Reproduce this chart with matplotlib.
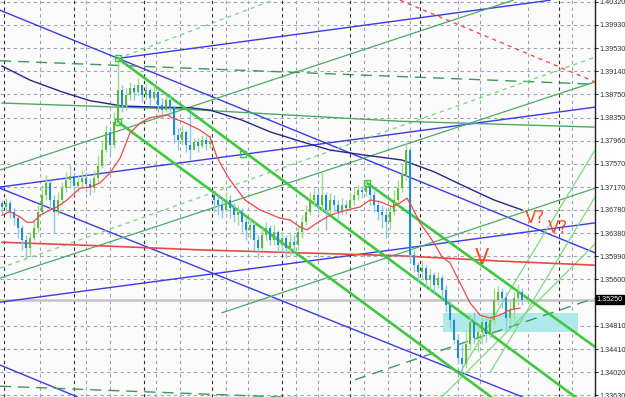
import matplotlib
matplotlib.use("Agg")
import matplotlib.pyplot as plt
from matplotlib.patches import Rectangle
import numpy as np

# ---------------- data ----------------
opens = [1.3690, 1.3683, 1.3690, 1.3675, 1.3664, 1.3647, 1.3627, 1.3613, 1.3630, 1.3647,
         1.3675, 1.3704, 1.3724, 1.3695, 1.3675, 1.3695, 1.3715, 1.3729, 1.3736, 1.3719,
         1.3726, 1.3732, 1.3722, 1.3715, 1.3732, 1.3753, 1.3780, 1.3811, 1.3789, 1.3828,
         1.3882, 1.3857, 1.3874, 1.3885, 1.3879, 1.3891, 1.3874, 1.3882, 1.3868, 1.3879,
         1.3857, 1.3848, 1.3865, 1.3851, 1.3806, 1.3797, 1.3811, 1.3789, 1.3780, 1.3794,
         1.3787, 1.3797, 1.3790, 1.3704, 1.3695, 1.3687, 1.3678, 1.3695, 1.3681, 1.3670,
         1.3675, 1.3658, 1.3644, 1.3653, 1.3627, 1.3613, 1.3636, 1.3647, 1.3627, 1.3641,
         1.3619, 1.3630, 1.3613, 1.3624, 1.3619, 1.3641, 1.3658, 1.3675, 1.3695, 1.3704,
         1.3687, 1.3704, 1.3678, 1.3695, 1.3687, 1.3675, 1.3687, 1.3681, 1.3695, 1.3704,
         1.3712, 1.3709, 1.3719, 1.3704, 1.3687, 1.3675, 1.3670, 1.3658, 1.3675, 1.3695,
         1.3715, 1.3738, 1.3780, 1.3602, 1.3585, 1.3573, 1.3579, 1.3559, 1.3568, 1.3551,
         1.3562, 1.3542, 1.3517, 1.3491, 1.3457, 1.3426, 1.3415, 1.3449, 1.3488, 1.3460,
         1.3471, 1.3488, 1.3466, 1.3491, 1.3525, 1.3539, 1.3528, 1.3494, 1.3508, 1.3528,
         1.3539]
closes = [1.3683, 1.3690, 1.3675, 1.3664, 1.3647, 1.3627, 1.3613, 1.3630, 1.3647, 1.3675,
          1.3704, 1.3724, 1.3695, 1.3675, 1.3695, 1.3715, 1.3729, 1.3736, 1.3719, 1.3726,
          1.3732, 1.3722, 1.3715, 1.3732, 1.3753, 1.3780, 1.3811, 1.3789, 1.3828, 1.3882,
          1.3857, 1.3874, 1.3885, 1.3879, 1.3891, 1.3874, 1.3882, 1.3868, 1.3879, 1.3857,
          1.3848, 1.3865, 1.3851, 1.3806, 1.3797, 1.3811, 1.3789, 1.3780, 1.3794, 1.3787,
          1.3797, 1.3790, 1.3794, 1.3695, 1.3687, 1.3678, 1.3695, 1.3681, 1.3670, 1.3675,
          1.3658, 1.3644, 1.3653, 1.3627, 1.3613, 1.3636, 1.3647, 1.3627, 1.3641, 1.3619,
          1.3630, 1.3613, 1.3624, 1.3619, 1.3641, 1.3658, 1.3675, 1.3695, 1.3704, 1.3687,
          1.3704, 1.3678, 1.3695, 1.3687, 1.3675, 1.3687, 1.3681, 1.3695, 1.3704, 1.3712,
          1.3709, 1.3719, 1.3704, 1.3687, 1.3675, 1.3670, 1.3658, 1.3675, 1.3695, 1.3715,
          1.3738, 1.3780, 1.3602, 1.3585, 1.3573, 1.3579, 1.3559, 1.3568, 1.3551, 1.3562,
          1.3542, 1.3517, 1.3491, 1.3457, 1.3426, 1.3415, 1.3449, 1.3488, 1.3460, 1.3471,
          1.3488, 1.3466, 1.3491, 1.3525, 1.3539, 1.3528, 1.3494, 1.3508, 1.3528, 1.3539,
          1.3525]
highs = [1.3695, 1.3698, 1.3695, 1.3681, 1.3670, 1.3653, 1.3636, 1.3641, 1.3661, 1.3687,
         1.3721, 1.3738, 1.3729, 1.3704, 1.3709, 1.3726, 1.3743, 1.3755, 1.3743, 1.3738,
         1.3746, 1.3743, 1.3732, 1.3746, 1.3772, 1.3797, 1.3823, 1.3817, 1.3845, 1.3936,
         1.3891, 1.3885, 1.3896, 1.3892, 1.3902, 1.3891, 1.3892, 1.3885, 1.3891, 1.3882,
         1.3868, 1.3874, 1.3872, 1.3857, 1.3817, 1.3823, 1.3814, 1.3843, 1.3800, 1.3800,
         1.3806, 1.3804, 1.3806, 1.3707, 1.3704, 1.3698, 1.3709, 1.3704, 1.3690, 1.3687,
         1.3681, 1.3664, 1.3664, 1.3658, 1.3636, 1.3647, 1.3658, 1.3653, 1.3653, 1.3644,
         1.3641, 1.3636, 1.3641, 1.3636, 1.3653, 1.3670, 1.3687, 1.3709, 1.3715, 1.3712,
         1.3743, 1.3709, 1.3707, 1.3704, 1.3695, 1.3698, 1.3695, 1.3709, 1.3715, 1.3721,
         1.3719, 1.3729, 1.3722, 1.3712, 1.3695, 1.3687, 1.3681, 1.3687, 1.3712, 1.3729,
         1.3755, 1.3794, 1.3783, 1.3610, 1.3590, 1.3593, 1.3585, 1.3579, 1.3573, 1.3573,
         1.3568, 1.3551, 1.3525, 1.3494, 1.3466, 1.3449, 1.3474, 1.3500, 1.3505, 1.3483,
         1.3498, 1.3494, 1.3500, 1.3545, 1.3549, 1.3545, 1.3539, 1.3525, 1.3539, 1.3552,
         1.3545]
lows = [1.3670, 1.3675, 1.3664, 1.3653, 1.3630, 1.3610, 1.3596, 1.3602, 1.3627, 1.3641,
        1.3670, 1.3695, 1.3678, 1.3639, 1.3670, 1.3687, 1.3709, 1.3715, 1.3704, 1.3709,
        1.3715, 1.3709, 1.3704, 1.3709, 1.3726, 1.3749, 1.3777, 1.3772, 1.3783, 1.3823,
        1.3845, 1.3848, 1.3865, 1.3865, 1.3874, 1.3862, 1.3865, 1.3857, 1.3865, 1.3845,
        1.3834, 1.3845, 1.3840, 1.3792, 1.3780, 1.3789, 1.3777, 1.3763, 1.3780, 1.3777,
        1.3783, 1.3780, 1.3783, 1.3675, 1.3670, 1.3664, 1.3675, 1.3664, 1.3658, 1.3653,
        1.3641, 1.3627, 1.3630, 1.3610, 1.3596, 1.3610, 1.3627, 1.3619, 1.3619, 1.3607,
        1.3607, 1.3596, 1.3602, 1.3607, 1.3610, 1.3630, 1.3653, 1.3670, 1.3687, 1.3675,
        1.3678, 1.3644, 1.3670, 1.3675, 1.3664, 1.3670, 1.3671, 1.3678, 1.3687, 1.3695,
        1.3698, 1.3702, 1.3687, 1.3675, 1.3661, 1.3647, 1.3630, 1.3644, 1.3670, 1.3687,
        1.3709, 1.3729, 1.3590, 1.3573, 1.3556, 1.3559, 1.3547, 1.3542, 1.3537, 1.3545,
        1.3528, 1.3505, 1.3477, 1.3449, 1.3415, 1.3401, 1.3409, 1.3440, 1.3449, 1.3437,
        1.3449, 1.3454, 1.3460, 1.3483, 1.3517, 1.3511, 1.3474, 1.3483, 1.3491, 1.3517,
        1.3517]

# moving averages (bar, price)
ma_fast_bars = [0, 2, 4.5, 6.25, 7.75, 9.5, 12, 13.75, 16.25, 19.5, 22, 24.5, 27, 29.5, 32,
                34.5, 37, 41.25, 42.5, 45.25, 49.5, 52, 53.75, 55.25, 57, 60.75, 64.5, 69.5,
                72, 74.5, 76.25, 78.75, 82, 86.25, 89.5, 92, 94.5, 97.75, 99.5, 101.25, 102.5,
                104.5, 107, 108.75, 110, 112, 114.5, 117, 119.5, 122, 124.5, 127, 129.5]
ma_fast_vals = [1.3669, 1.3675, 1.3666, 1.3657, 1.3657, 1.3669, 1.3678, 1.3683, 1.3695, 1.3715,
                1.3717, 1.3724, 1.3741, 1.3766, 1.3809, 1.3826, 1.3835, 1.3840, 1.3835, 1.3828,
                1.3814, 1.3802, 1.3768, 1.3749, 1.3729, 1.3695, 1.3678, 1.3664, 1.3661, 1.3649,
                1.3644, 1.3656, 1.3669, 1.3678, 1.3683, 1.3695, 1.3692, 1.3683, 1.3690, 1.3698,
                1.3683, 1.3656, 1.3632, 1.3613, 1.3598, 1.3588, 1.3554, 1.3520, 1.3499, 1.3494,
                1.3499, 1.3508, 1.3511]
ma_slow_bars = [0, 7, 15, 22, 30, 39, 47, 52, 60, 67, 75, 82, 90, 100, 108, 116, 123, 130]
ma_slow_vals = [1.3923, 1.3899, 1.3879, 1.3864, 1.3855, 1.3853, 1.3852, 1.3848, 1.3831, 1.3811,
                1.3794, 1.3780, 1.3772, 1.3763, 1.3743, 1.3717, 1.3695, 1.3678]
ma_long_bars = [0, 24.5, 49.5, 74.5, 99.5, 124.5, 148.25]
ma_long_vals = [1.3623, 1.3617, 1.3610, 1.3605, 1.3600, 1.3591, 1.3584]
flat_green_bars = [0, 29.5, 44.5, 99.5, 148.25]
flat_green_vals = [1.3860, 1.3853, 1.3850, 1.3829, 1.3819]

# trend lines: (bar0, price0, bar1, price1)
blue_lines = [(-0.5, 1.4018, 148.25, 1.3605),
              (-0.5, 1.3717, 148.25, 1.3853),
              (29, 1.3936, 137, 1.4035),
              (-0.5, 1.3521, 148.25, 1.3656),
              (-0.5, 1.3715, 130, 1.3360),
              (-0.5, 1.3414, 18.75, 1.3360)]
thick_green_lines = [(29, 1.3936, 143.25, 1.3360),
                     (29, 1.3828, 122.25, 1.3360),
                     (91.25, 1.3724, 148.25, 1.3445)]
thin_green_lines = [(-0.5, 1.3746, 127.75, 1.4035),
                    (-0.5, 1.3562, 148.25, 1.3896),
                    (55, 1.3503, 148.25, 1.3715)]
dashed_dark_green = [(-0.5, 1.3932, 148.25, 1.3892),
                     (-0.5, 1.3378, 148.25, 1.3339),
                     (88.25, 1.3389, 148.25, 1.3528)]
light_green_dotted = [(29, 1.3936, 67.75, 1.4035),
                      (-0.5, 1.3579, 148.25, 1.3938)]
fan_lines = [(114.5, 1.3401, 148.25, 1.3780),
             (122, 1.3401, 148.25, 1.3700),
             (110, 1.3360, 148.25, 1.3620)]
red_dotted = [(99.5, 1.4035, 148.25, 1.3896)]

anchors_bar = [29, 60.25, 91.25, 29]
anchors_val = [1.3936, 1.3773, 1.3724, 1.3828]

zone = (110.25, 1.3470, 144.0, 1.3503)
last_price = 1.3525
tick_prices = [1.40320, 1.39930, 1.39530, 1.39140, 1.38750, 1.38350, 1.37960, 1.37570,
               1.37170, 1.36780, 1.36380, 1.35990, 1.35600, 1.34810, 1.34410,
               1.34020, 1.33630]
grid_bars_light = [9.5, 21, 27, 38.5, 44.5, 56, 61.5, 73.5, 79, 90.5, 96.5, 102, 114, 119.5,
                   131.5, 142.5]
grid_bars_dark = [0.5, 18, 35.5, 52.5, 70, 87, 104.5, 139.25]
notes = [("V", 120, 1.3596, 15), ("V?", 133.25, 1.3664, 12), ("V?", 139, 1.3647, 12)]

LABEL_FONT = ["Liberation Sans", "DejaVu Sans"]

# ---------------- figure ----------------
fig = plt.figure(figsize=(6.25, 3.97), dpi=100)
fig.patch.set_facecolor("white")
ax = fig.add_axes([0, 0, 595 / 625, 1])
ax.set_facecolor("#fbfbfb")
ax.set_xlim(-0.5, 148.25)
ax.set_ylim(1.33596, 1.40354)

for p in tick_prices:
    ax.axhline(p, color="#9aa3b3", lw=0.8, ls=(0, (3, 3)), zorder=1)
for b in grid_bars_light:
    ax.axvline(b, color="#9aa3b3", lw=0.8, ls=(0, (3, 3)), zorder=1)
for b in grid_bars_dark:
    ax.axvline(b, color="#303030", lw=0.8, ls=(0, (3, 3)), zorder=1)

ax.add_patch(Rectangle((zone[0], zone[1]), zone[2] - zone[0], zone[3] - zone[1],
                       facecolor="#aeeaea", edgecolor="none", zorder=2))
ax.axhline(last_price, color="#c4c4c4", lw=1.8, zorder=2)

def seg(lines, **kw):
    for b0, p0, b1, p1 in lines:
        ax.plot([b0, b1], [p0, p1], **kw)

seg(blue_lines, color="#3a3ae8", lw=1.0, zorder=3)
seg(thin_green_lines, color="#4caa66", lw=0.9, zorder=3)
seg(dashed_dark_green, color="#3c9a5a", lw=1.0, ls=(0, (8, 5)), zorder=3)
seg(light_green_dotted, color="#7fd97f", lw=1.0, ls=(0, (3, 3)), zorder=3)
seg(fan_lines, color="#7fd97f", lw=0.9, zorder=3)
seg(red_dotted, color="#f05050", lw=1.0, ls=(0, (3, 3)), zorder=3)
ax.plot(ma_long_bars, ma_long_vals, color="#e84848", lw=1.2, zorder=3)
ax.plot(flat_green_bars, flat_green_vals, color="#4caa66", lw=1.0, zorder=3)
ax.plot(ma_slow_bars, ma_slow_vals, color="#262690", lw=1.0, zorder=3)
seg(thick_green_lines, color="#3ec83e", lw=1.9, zorder=4)

# candles
x = np.arange(len(closes))
o = np.array(opens); c = np.array(closes); h = np.array(highs); l = np.array(lows)
up = c >= o
hh = np.maximum(h, np.maximum(o, c)); ll = np.minimum(l, np.minimum(o, c))
ax.vlines(x[up], ll[up], hh[up], color="#9edc8c", lw=1.0, zorder=5)
ax.vlines(x[~up], ll[~up], hh[~up], color="#86c8ea", lw=1.0, zorder=5)
body_lo = np.minimum(o, c); body_h = np.maximum(np.abs(c - o), 0.00008)
ax.bar(x[up], body_h[up], bottom=body_lo[up], width=0.5, color="#5cba3c", lw=0, zorder=6)
ax.bar(x[~up], body_h[~up], bottom=body_lo[~up], width=0.5, color="#1d8fd0", lw=0, zorder=6)

ax.plot(ma_fast_bars, ma_fast_vals, color="#f04848", lw=0.9, zorder=7)
ax.plot(anchors_bar, anchors_val, ls="none", marker="s", ms=4, mfc="none",
        mec="#3ec83e", mew=1.0, zorder=8)

for t, b, p, fs in notes:
    ax.text(b, p, t, color="#ff4a22", fontsize=fs, ha="center", va="center", zorder=9)

# axis
ax.yaxis.tick_right()
ax.set_yticks(tick_prices)
ax.set_yticklabels([f"{p:.5f}" for p in tick_prices],
                   fontsize=5.2, color="#303030", family=LABEL_FONT)
ax.tick_params(axis="y", direction="out", length=2.5, width=0.8, pad=0.5, colors="#303030")
ax.set_xticks([])
for s in ["top", "left", "bottom"]:
    ax.spines[s].set_visible(False)
ax.spines["right"].set_color("#202020")
ax.spines["right"].set_linewidth(1.0)

ax.text(1.003, last_price, f"{last_price:.5f}", transform=ax.get_yaxis_transform(),
        fontsize=5.2, color="white", va="center", ha="left", family=LABEL_FONT,
        bbox=dict(boxstyle="square,pad=0.12", fc="black", ec="black"), zorder=10,
        clip_on=False)

fig.savefig("out.png", dpi=100, facecolor="white")
